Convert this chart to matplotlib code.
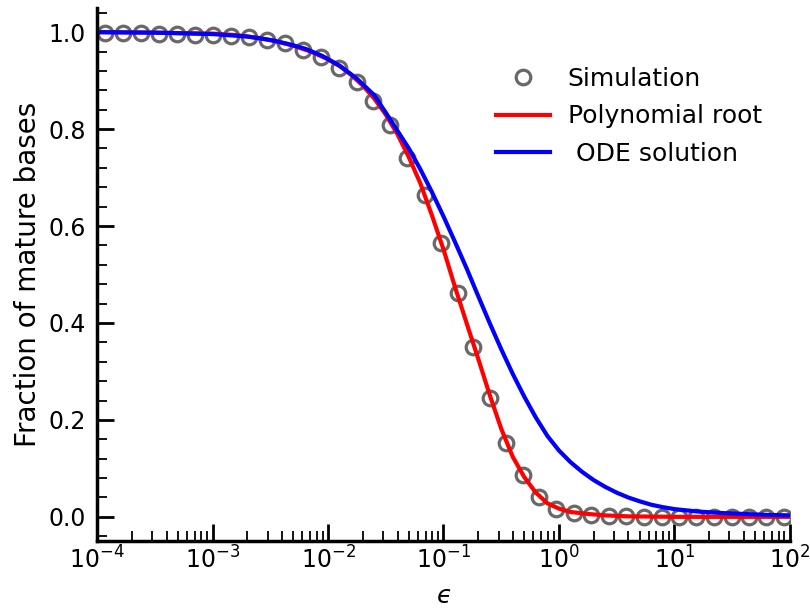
import numpy as np
import matplotlib
matplotlib.use("Agg")
import matplotlib.pyplot as plt
from matplotlib.ticker import MultipleLocator, LogLocator, NullFormatter, FormatStrFormatter

# ---- data ----
sim_log_eps = [-3.933, -3.777, -3.621, -3.465, -3.310, -3.154, -2.998, -2.842, -2.686, -2.530,
               -2.374, -2.218, -2.062, -1.904, -1.751, -1.607, -1.461, -1.317, -1.164, -1.019,
               -0.878, -0.742, -0.600, -0.459, -0.314, -0.175, -0.027, 0.128, 0.282, 0.432,
               0.582, 0.735, 0.889, 1.039, 1.189, 1.343, 1.496, 1.646, 1.796, 1.950]
sim_frac = [0.998, 0.998, 0.998, 0.997, 0.996, 0.995, 0.994, 0.993, 0.990, 0.984,
            0.977, 0.963, 0.948, 0.927, 0.898, 0.858, 0.808, 0.741, 0.663, 0.566,
            0.461, 0.351, 0.245, 0.152, 0.087, 0.041, 0.017, 0.007, 0.004, 0.002,
            0.001, 0.0, 0.0, 0.0, 0.0, 0.0, 0.0, 0.0, 0.0, 0.0]

poly_log_eps = [-4.0, -3.5, -3.0, -2.8, -2.6, -2.45, -2.3, -2.15, -2.0, -1.9,
                -1.8, -1.7, -1.6, -1.5, -1.4, -1.3, -1.2, -1.1, -1.0, -0.9,
                -0.8, -0.7, -0.6, -0.5, -0.4, -0.3, -0.2, -0.1, 0.0, 0.1,
                0.25, 0.4, 0.6, 1.0, 2.0]
poly_frac = [1.0, 0.999, 0.997, 0.994, 0.988, 0.981, 0.972, 0.960, 0.944, 0.930,
             0.912, 0.890, 0.863, 0.830, 0.790, 0.742, 0.688, 0.622, 0.552, 0.474,
             0.400, 0.327, 0.252, 0.182, 0.124, 0.082, 0.050, 0.028, 0.017, 0.010,
             0.006, 0.003, 0.001, 0.0, 0.0]

ode_log_eps = [-4.0, -3.5, -3.0, -2.7, -2.5, -2.35, -2.2, -2.05, -1.9, -1.75,
               -1.6, -1.5, -1.4, -1.3, -1.2, -1.1, -1.0, -0.9, -0.8, -0.7,
               -0.6, -0.5, -0.4, -0.3, -0.2, -0.1, 0.0, 0.1, 0.2, 0.3,
               0.4, 0.5, 0.6, 0.7, 0.8, 0.9, 1.0, 1.2, 1.4, 1.6,
               1.8, 2.0]
ode_frac = [1.0, 0.999, 0.996, 0.991, 0.984, 0.976, 0.966, 0.951, 0.931, 0.904,
            0.870, 0.834, 0.797, 0.760, 0.717, 0.670, 0.620, 0.567, 0.513, 0.456,
            0.400, 0.346, 0.295, 0.248, 0.205, 0.167, 0.137, 0.113, 0.093, 0.076,
            0.062, 0.050, 0.040, 0.032, 0.025, 0.020, 0.016, 0.011, 0.008, 0.006,
            0.004, 0.003]

labels = ["Simulation", "Polynomial root", " ODE solution"]

# ---- figure ----
fig = plt.figure(figsize=(8.1, 6.1), dpi=100)
ax = fig.add_axes([0.12, 0.113, 0.855, 0.874])

ax.plot(10 ** np.array(sim_log_eps), sim_frac, 'o', ms=10.5, mfc='none',
        mec='#686868', mew=2.3, label=labels[0])
ax.plot(10 ** np.array(poly_log_eps), poly_frac, '-', color='red', lw=3,
        label=labels[1])
ax.plot(10 ** np.array(ode_log_eps), ode_frac, '-', color='blue', lw=3,
        label=labels[2])

ax.set_xscale('log')
ax.set_xlim(1e-4, 1e2)
ax.set_ylim(-0.05, 1.05)

ax.yaxis.set_major_locator(MultipleLocator(0.2))
ax.yaxis.set_minor_locator(MultipleLocator(0.04))
ax.yaxis.set_major_formatter(FormatStrFormatter('%.1f'))
ax.xaxis.set_major_locator(LogLocator(base=10, numticks=20))
ax.xaxis.set_minor_locator(LogLocator(base=10, subs=np.arange(2, 10), numticks=20))
ax.xaxis.set_minor_formatter(NullFormatter())

for s in ['top', 'right']:
    ax.spines[s].set_visible(False)
for s in ['left', 'bottom']:
    ax.spines[s].set_linewidth(2.5)

ax.tick_params(which='major', direction='in', length=12, width=2, labelsize=17)
ax.tick_params(axis='x', which='major', pad=4)
ax.tick_params(axis='y', which='major', pad=8)
ax.tick_params(which='minor', direction='in', length=7, width=1.3)

ax.set_xlabel('$\u03f5$', fontsize=18, labelpad=7)
ax.set_ylabel('Fraction of mature bases', fontsize=20, labelpad=5)

ax.legend(loc='upper right', bbox_to_anchor=(0.992, 0.932), frameon=False,
          fontsize=18, numpoints=1, labelspacing=0.55, handlelength=2.15,
          handletextpad=0.7)

fig.savefig('out.png', dpi=100)
